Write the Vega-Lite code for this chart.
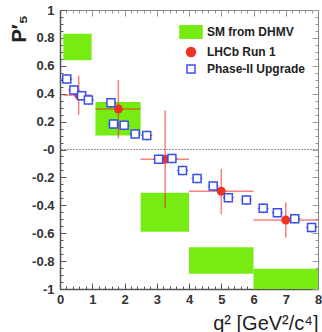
{
  "$schema": "https://vega.github.io/schema/vega-lite/v6.json",
  "width": 258,
  "height": 279,
  "autosize": {"type": "none"},
  "padding": {"left": 60, "top": 10, "right": 4, "bottom": 43},
  "background": "white",
  "config": {
    "view": {"stroke": "#777", "strokeWidth": 1},
    "font": "Liberation Sans",
    "axis": {"labelFont": "Liberation Sans", "titleFont": "Liberation Sans", "labelColor": "#333", "titleColor": "#222", "domainColor": "#555", "domainWidth": 1.5, "tickColor": "#555", "grid": false}
  },
  "datasets": {
    "dhmv": [
      {"x": 0.1, "x2": 0.98, "y": 0.64, "y2": 0.83, "series": "SM from DHMV"},
      {"x": 1.1, "x2": 2.5, "y": 0.10, "y2": 0.34, "series": "SM from DHMV"},
      {"x": 2.5, "x2": 4.0, "y": -0.59, "y2": -0.31, "series": "SM from DHMV"},
      {"x": 4.0, "x2": 6.0, "y": -0.89, "y2": -0.70, "series": "SM from DHMV"},
      {"x": 6.0, "x2": 8.0, "y": -1.0, "y2": -0.855, "series": "SM from DHMV"}
    ],
    "lhcb": [
      {"x": 0.58, "y": 0.39, "xlo": 0.1, "xhi": 0.98, "ylo": 0.25, "yhi": 0.53, "series": "LHCb Run 1"},
      {"x": 1.81, "y": 0.29, "xlo": 1.1, "xhi": 2.5, "ylo": 0.08, "yhi": 0.50, "series": "LHCb Run 1"},
      {"x": 3.26, "y": -0.07, "xlo": 2.5, "xhi": 4.0, "ylo": -0.42, "yhi": 0.28, "series": "LHCb Run 1"},
      {"x": 5.0, "y": -0.30, "xlo": 4.0, "xhi": 6.0, "ylo": -0.465, "yhi": -0.14, "series": "LHCb Run 1"},
      {"x": 7.0, "y": -0.505, "xlo": 6.0, "xhi": 8.0, "ylo": -0.63, "yhi": -0.38, "series": "LHCb Run 1"}
    ],
    "upg": [
      {"x": 0.21, "y": 0.505, "xlo": 0.04, "xhi": 0.38, "ylo": 0.47, "yhi": 0.54, "series": "Phase-II Upgrade"},
      {"x": 0.43, "y": 0.427, "xlo": 0.26, "xhi": 0.60, "ylo": 0.392, "yhi": 0.462, "series": "Phase-II Upgrade"},
      {"x": 0.67, "y": 0.386, "xlo": 0.50, "xhi": 0.84, "ylo": 0.351, "yhi": 0.421, "series": "Phase-II Upgrade"},
      {"x": 0.88, "y": 0.355, "xlo": 0.71, "xhi": 1.05, "ylo": 0.32, "yhi": 0.39, "series": "Phase-II Upgrade"},
      {"x": 1.58, "y": 0.335, "xlo": 1.41, "xhi": 1.75, "ylo": 0.30, "yhi": 0.37, "series": "Phase-II Upgrade"},
      {"x": 1.66, "y": 0.183, "xlo": 1.49, "xhi": 1.83, "ylo": 0.148, "yhi": 0.218, "series": "Phase-II Upgrade"},
      {"x": 1.99, "y": 0.173, "xlo": 1.82, "xhi": 2.16, "ylo": 0.138, "yhi": 0.208, "series": "Phase-II Upgrade"},
      {"x": 2.33, "y": 0.111, "xlo": 2.16, "xhi": 2.50, "ylo": 0.076, "yhi": 0.146, "series": "Phase-II Upgrade"},
      {"x": 2.69, "y": 0.10, "xlo": 2.52, "xhi": 2.86, "ylo": 0.065, "yhi": 0.135, "series": "Phase-II Upgrade"},
      {"x": 3.06, "y": -0.07, "xlo": 2.89, "xhi": 3.23, "ylo": -0.105, "yhi": -0.035, "series": "Phase-II Upgrade"},
      {"x": 3.47, "y": -0.065, "xlo": 3.30, "xhi": 3.64, "ylo": -0.10, "yhi": -0.03, "series": "Phase-II Upgrade"},
      {"x": 3.80, "y": -0.15, "xlo": 3.63, "xhi": 3.97, "ylo": -0.185, "yhi": -0.115, "series": "Phase-II Upgrade"},
      {"x": 4.25, "y": -0.207, "xlo": 4.08, "xhi": 4.42, "ylo": -0.242, "yhi": -0.172, "series": "Phase-II Upgrade"},
      {"x": 4.75, "y": -0.262, "xlo": 4.58, "xhi": 4.92, "ylo": -0.297, "yhi": -0.227, "series": "Phase-II Upgrade"},
      {"x": 5.22, "y": -0.345, "xlo": 5.05, "xhi": 5.39, "ylo": -0.38, "yhi": -0.31, "series": "Phase-II Upgrade"},
      {"x": 5.78, "y": -0.362, "xlo": 5.61, "xhi": 5.95, "ylo": -0.397, "yhi": -0.327, "series": "Phase-II Upgrade"},
      {"x": 6.30, "y": -0.422, "xlo": 6.13, "xhi": 6.47, "ylo": -0.457, "yhi": -0.387, "series": "Phase-II Upgrade"},
      {"x": 6.74, "y": -0.453, "xlo": 6.57, "xhi": 6.91, "ylo": -0.488, "yhi": -0.418, "series": "Phase-II Upgrade"},
      {"x": 7.28, "y": -0.496, "xlo": 7.11, "xhi": 7.45, "ylo": -0.531, "yhi": -0.461, "series": "Phase-II Upgrade"},
      {"x": 7.80, "y": -0.56, "xlo": 7.63, "xhi": 7.97, "ylo": -0.595, "yhi": -0.525, "series": "Phase-II Upgrade"}
    ],
    "zero": [{"y": 0}]
  },
  "resolve": {"axis": {"x": "independent", "y": "independent"}},
  "layer": [
    {
      "data": {"name": "dhmv"},
      "mark": {"type": "rect", "clip": true},
      "encoding": {
        "x": {"field": "x", "type": "quantitative", "scale": {"domain": [0, 8], "nice": false, "zero": false},
          "axis": {"orient": "bottom", "values": [0,0.2,0.4,0.6,0.8,1,1.2,1.4,1.6,1.8,2,2.2,2.4,2.6,2.8,3,3.2,3.4,3.6,3.8,4,4.2,4.4,4.6,4.8,5,5.2,5.4,5.6,5.8,6,6.2,6.4,6.6,6.8,7,7.2,7.4,7.6,7.8,8],
            "labelExpr": "abs(datum.value - round(datum.value)) < 0.001 ? '' + round(datum.value) : ''",
            "tickSize": {"condition": {"test": "abs(datum.value - round(datum.value)) < 0.001", "value": -6}, "value": -3},
            "labelFontSize": 13, "labelFontWeight": "bold", "labelPadding": 10, "labelFlush": false, "labelOverlap": false,
            "title": "q² [GeV²/c⁴]", "titleFontSize": 20, "titleFontWeight": "normal", "titleAnchor": "end", "titleAlign": "right", "titleBaseline": "alphabetic", "titleX": 258, "titleY": 40}},
        "x2": {"field": "x2"},
        "y": {"field": "y", "type": "quantitative", "scale": {"domain": [-1, 1], "nice": false, "zero": false},
          "axis": {"orient": "left", "values": [-1,-0.95,-0.9,-0.85,-0.8,-0.75,-0.7,-0.65,-0.6,-0.55,-0.5,-0.45,-0.4,-0.35,-0.3,-0.25,-0.2,-0.15,-0.1,-0.05,0,0.05,0.1,0.15,0.2,0.25,0.3,0.35,0.4,0.45,0.5,0.55,0.6,0.65,0.7,0.75,0.8,0.85,0.9,0.95,1],
            "labelExpr": "abs(datum.value*5 - round(datum.value*5)) < 0.001 ? (abs(datum.value) < 0.001 ? '-0' : '' + datum.value) : ''",
            "tickSize": {"condition": {"test": "abs(datum.value*5 - round(datum.value*5)) < 0.001", "value": -6}, "value": -3},
            "labelFontSize": 13, "labelFontWeight": "bold", "labelPadding": 12, "labelOverlap": false, "labelFlush": false,
            "title": "P′₅", "titleFontSize": 20, "titleFontWeight": "bold", "titleAngle": 270, "titleAlign": "left", "titleBaseline": "middle", "titleX": -41, "titleY": 32}},
        "y2": {"field": "y2"},
        "fill": {"field": "series", "type": "nominal",
          "scale": {"domain": ["SM from DHMV", "LHCb Run 1", "Phase-II Upgrade"], "range": ["#77ec12", "#ee3322", "white"]},
          "legend": {"title": null, "orient": "none", "legendX": 125, "legendY": 16, "offset": 0, "padding": 0, "symbolSize": 100, "symbolStrokeWidth": 1.5, "labelFontSize": 12, "labelFontWeight": "bold", "labelColor": "#222", "labelOffset": 10, "rowPadding": 2}}
      }
    },
    {
      "data": {"name": "zero"},
      "mark": {"type": "rule", "color": "#999", "strokeDash": [2, 1], "strokeWidth": 1},
      "encoding": {
        "y": {"field": "y", "type": "quantitative",
          "axis": {"orient": "right", "values": [-1,-0.95,-0.9,-0.85,-0.8,-0.75,-0.7,-0.65,-0.6,-0.55,-0.5,-0.45,-0.4,-0.35,-0.3,-0.25,-0.2,-0.15,-0.1,-0.05,0,0.05,0.1,0.15,0.2,0.25,0.3,0.35,0.4,0.45,0.5,0.55,0.6,0.65,0.7,0.75,0.8,0.85,0.9,0.95,1],
            "labels": false, "title": null, "domainColor": "#888", "domainWidth": 1, "tickColor": "#999",
            "tickSize": {"condition": {"test": "abs(datum.value*5 - round(datum.value*5)) < 0.001", "value": -6}, "value": -3}}}
      }
    },
    {
      "data": {"name": "lhcb"},
      "mark": {"type": "rule", "color": "#ee1c1c", "opacity": 0.55, "strokeWidth": 1.5},
      "encoding": {
        "x": {"field": "xlo", "type": "quantitative",
          "axis": {"orient": "top", "values": [0,0.2,0.4,0.6,0.8,1,1.2,1.4,1.6,1.8,2,2.2,2.4,2.6,2.8,3,3.2,3.4,3.6,3.8,4,4.2,4.4,4.6,4.8,5,5.2,5.4,5.6,5.8,6,6.2,6.4,6.6,6.8,7,7.2,7.4,7.6,7.8,8],
            "labels": false, "title": null, "domainColor": "#888", "domainWidth": 1, "tickColor": "#999",
            "tickSize": {"condition": {"test": "abs(datum.value - round(datum.value)) < 0.001", "value": -6}, "value": -3}}},
        "x2": {"field": "xhi"},
        "y": {"field": "y", "type": "quantitative", "axis": null}
      }
    },
    {
      "data": {"name": "lhcb"},
      "mark": {"type": "rule", "color": "#ee1c1c", "opacity": 0.55, "strokeWidth": 1.5},
      "encoding": {
        "x": {"field": "x", "type": "quantitative", "axis": null},
        "y": {"field": "ylo", "type": "quantitative", "axis": null},
        "y2": {"field": "yhi"}
      }
    },
    {
      "data": {"name": "lhcb"},
      "mark": {"type": "point", "filled": true, "size": 100, "opacity": 1, "strokeWidth": 0},
      "encoding": {
        "x": {"field": "x", "type": "quantitative", "axis": null},
        "y": {"field": "y", "type": "quantitative", "axis": null},
        "fill": {"field": "series", "type": "nominal"},
        "stroke": {"field": "series", "type": "nominal",
          "scale": {"domain": ["SM from DHMV", "LHCb Run 1", "Phase-II Upgrade"], "range": ["#77ec12", "#ee3322", "#3b50e8"]}},
        "shape": {"field": "series", "type": "nominal",
          "scale": {"domain": ["SM from DHMV", "LHCb Run 1", "Phase-II Upgrade"], "range": ["M-2.2,-1.25H2.2V1.25H-2.2Z", "M0.9,0A0.9,0.9,0,1,1,-0.9,0A0.9,0.9,0,1,1,0.9,0Z", "M-0.8,-0.8H0.8V0.8H-0.8Z"]}}
      }
    },
    {
      "data": {"name": "upg"},
      "mark": {"type": "rule", "color": "#3b50e8", "strokeWidth": 1},
      "encoding": {
        "x": {"field": "x", "type": "quantitative", "axis": null},
        "y": {"field": "ylo", "type": "quantitative", "axis": null},
        "y2": {"field": "yhi"}
      }
    },
    {
      "data": {"name": "upg"},
      "mark": {"type": "rule", "color": "#3b50e8", "strokeWidth": 1},
      "encoding": {
        "x": {"field": "xlo", "type": "quantitative", "axis": null},
        "x2": {"field": "xhi"},
        "y": {"field": "y", "type": "quantitative", "axis": null}
      }
    },
    {
      "data": {"name": "upg"},
      "mark": {"type": "point", "size": 100, "strokeWidth": 1.5, "opacity": 1, "fillOpacity": 1},
      "encoding": {
        "x": {"field": "x", "type": "quantitative", "axis": null},
        "y": {"field": "y", "type": "quantitative", "axis": null},
        "fill": {"field": "series", "type": "nominal"},
        "stroke": {"field": "series", "type": "nominal"},
        "shape": {"field": "series", "type": "nominal"}
      }
    }
  ]
}
